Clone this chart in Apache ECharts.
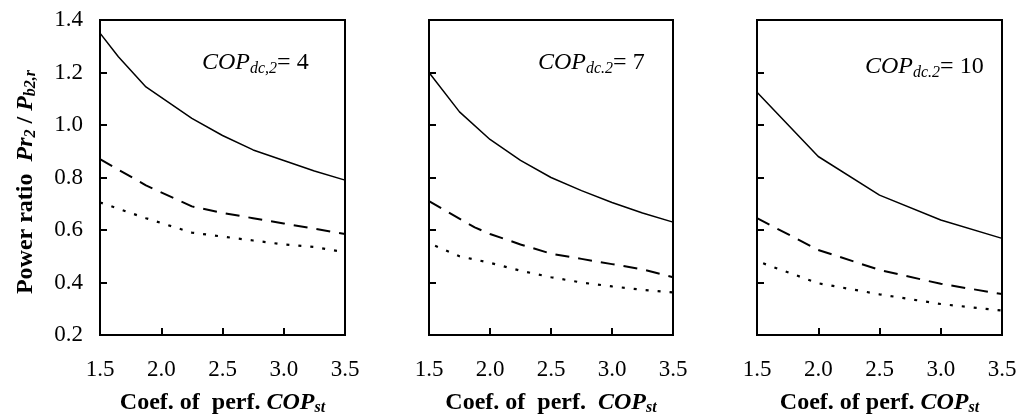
<!DOCTYPE html>
<html>
<head>
<meta charset="utf-8">
<script src="https://cdn.jsdelivr.net/npm/echarts@6/dist/echarts.min.js"></script>
<style>
  html, body { margin: 0; padding: 0; background: #fff; }
  #main { width: 1018px; height: 416px; }
</style>
</head>
<body>
<div id="main"></div>
<script>
// 横轴 COP_st
var xTicks = [1.5, 2.0, 2.5, 3.0, 3.5];
var yTicks = [0.2, 0.4, 0.6, 0.8, 1.0, 1.2, 1.4];

// COP_dc,2 = 4
var p1SolidX = [1.5, 1.65, 1.875, 2.25, 2.5, 2.75, 3.0, 3.25, 3.5];
var p1SolidY = [1.35, 1.26, 1.145, 1.025, 0.96, 0.905, 0.865, 0.825, 0.79];
var p1DashX = [1.5, 1.875, 2.25, 2.5, 2.75, 3.0, 3.25, 3.5];
var p1DashY = [0.87, 0.77, 0.69, 0.665, 0.645, 0.625, 0.605, 0.585];
var p1DotX = [1.5, 1.875, 2.25, 2.5, 2.75, 3.0, 3.25, 3.5];
var p1DotY = [0.705, 0.645, 0.59, 0.575, 0.56, 0.545, 0.535, 0.515];

// COP_dc.2 = 7
var p2SolidX = [1.5, 1.75, 2.0, 2.25, 2.5, 2.75, 3.0, 3.25, 3.5];
var p2SolidY = [1.2, 1.05, 0.945, 0.865, 0.8, 0.75, 0.705, 0.665, 0.63];
var p2DashX = [1.5, 1.875, 2.0, 2.25, 2.5, 2.75, 3.0, 3.25, 3.5];
var p2DashY = [0.71, 0.61, 0.585, 0.545, 0.51, 0.49, 0.47, 0.45, 0.42];
var p2DotX = [1.55, 1.75, 2.0, 2.25, 2.5, 2.75, 3.0, 3.25, 3.5];
var p2DotY = [0.54, 0.5, 0.475, 0.445, 0.42, 0.4, 0.385, 0.372, 0.362];

// COP_dc.2 = 10
var p3SolidX = [1.5, 2.0, 2.5, 3.0, 3.5];
var p3SolidY = [1.125, 0.88, 0.733, 0.638, 0.568];
var p3DashX = [1.5, 2.0, 2.5, 3.0, 3.5];
var p3DashY = [0.645, 0.524, 0.448, 0.395, 0.356];
var p3DotX = [1.55, 2.0, 2.5, 3.0, 3.5];
var p3DotY = [0.473, 0.397, 0.355, 0.318, 0.293];

var panelLabels = ['4', '7', '10'];
var panelSubs = ['dc,2', 'dc.2', 'dc.2'];
var xNames = ['Coef. of  perf.', 'Coef. of  perf. ', 'Coef. of perf.'];

var myChart = echarts.init(document.getElementById('main'));
var font = 'Liberation Serif';

function pairs(xs, ys) {
    return xs.map(function (x, i) { return [x, ys[i]]; });
}

var grids = [
    {left: 100, width: 245, top: 20, height: 315},
    {left: 429, width: 244, top: 20, height: 315},
    {left: 757, width: 245, top: 20, height: 315}
];
grids.forEach(function (g) {
    g.show = true;
    g.borderColor = '#000';
    g.borderWidth = 2;
    g.containLabel = false;
    g.outerBoundsMode = 'none';
});

var nameRich = {
    b: {fontFamily: font, fontWeight: 'bold', fontSize: 24, color: '#000'},
    bi: {fontFamily: font, fontWeight: 'bold', fontStyle: 'italic', fontSize: 24, color: '#000'},
    sub: {fontFamily: font, fontWeight: 'bold', fontStyle: 'italic', fontSize: 16, color: '#000', padding: [10, 0, 0, 0]}
};

var xAxes = [], yAxes = [];
for (var i = 0; i < 3; i++) {
    xAxes.push({
        type: 'value', gridIndex: i, min: 1.5, max: 3.5, interval: 0.5,
        name: '{b|' + xNames[i] + ' }{bi|COP}{sub|st}',
        nameLocation: 'middle', nameGap: 55,
        nameTextStyle: {rich: nameRich},
        axisLine: {lineStyle: {color: '#000', width: 2}},
        axisTick: {inside: true, length: 7, lineStyle: {color: '#000', width: 2}},
        splitLine: {show: false},
        axisLabel: {
            fontFamily: font, fontSize: 23, color: '#000', margin: 23,
            formatter: function (v) { return v.toFixed(1); }
        }
    });
    yAxes.push({
        type: 'value', gridIndex: i, min: 0.2, max: 1.4, interval: 0.2,
        axisLine: {lineStyle: {color: '#000', width: 2}},
        axisTick: {inside: true, length: 7, lineStyle: {color: '#000', width: 2}},
        splitLine: {show: false},
        axisLabel: {
            show: i === 0,
            fontFamily: font, fontSize: 23, color: '#000', margin: 17,
            formatter: function (v) { return v.toFixed(1); }
        }
    });
}

function line(idx, xs, ys, type, width) {
    return {
        type: 'line', xAxisIndex: idx, yAxisIndex: idx,
        data: pairs(xs, ys), symbol: 'none', smooth: false,
        lineStyle: {color: '#000', width: width, type: type}
    };
}

var series = [
    line(0, p1SolidX, p1SolidY, 'solid', 1.5),
    line(0, p1DashX, p1DashY, [14, 9], 2),
    line(0, p1DotX, p1DotY, [3, 9], 2.2),
    line(1, p2SolidX, p2SolidY, 'solid', 1.5),
    line(1, p2DashX, p2DashY, [14, 9], 2),
    line(1, p2DotX, p2DotY, [3, 9], 2.2),
    line(2, p3SolidX, p3SolidY, 'solid', 1.5),
    line(2, p3DashX, p3DashY, [14, 9], 2),
    line(2, p3DotX, p3DotY, [3, 9], 2.2)
];

var annoRich = {
    it: {fontFamily: font, fontStyle: 'italic', fontSize: 24, color: '#000'},
    sub: {fontFamily: font, fontStyle: 'italic', fontSize: 16, color: '#000', padding: [11, 0, 0, 0]},
    n: {fontFamily: font, fontSize: 24, color: '#000'}
};
var annoPos = [[202, 68], [538, 68], [865, 72]];
var graphics = annoPos.map(function (p, i) {
    return {
        type: 'text', left: p[0], top: p[1] - 17,
        style: {
            text: '{it|COP}{sub|' + panelSubs[i] + '}{n|= ' + panelLabels[i] + '}',
            rich: annoRich
        }
    };
});
graphics.push({
    type: 'text', x: 26, y: 182, rotation: Math.PI / 2,
    style: {
        text: '{b|Power ratio  }{bi|Pr}{sub|2}{b| / }{bi|P}{sub|b2,r}',
        align: 'center', verticalAlign: 'middle',
        rich: nameRich
    }
});

var option = {
    backgroundColor: '#fff',
    animation: false,
    grid: grids,
    xAxis: xAxes,
    yAxis: yAxes,
    series: series,
    graphic: graphics
};
myChart.setOption(option);
</script>
</body>
</html>
